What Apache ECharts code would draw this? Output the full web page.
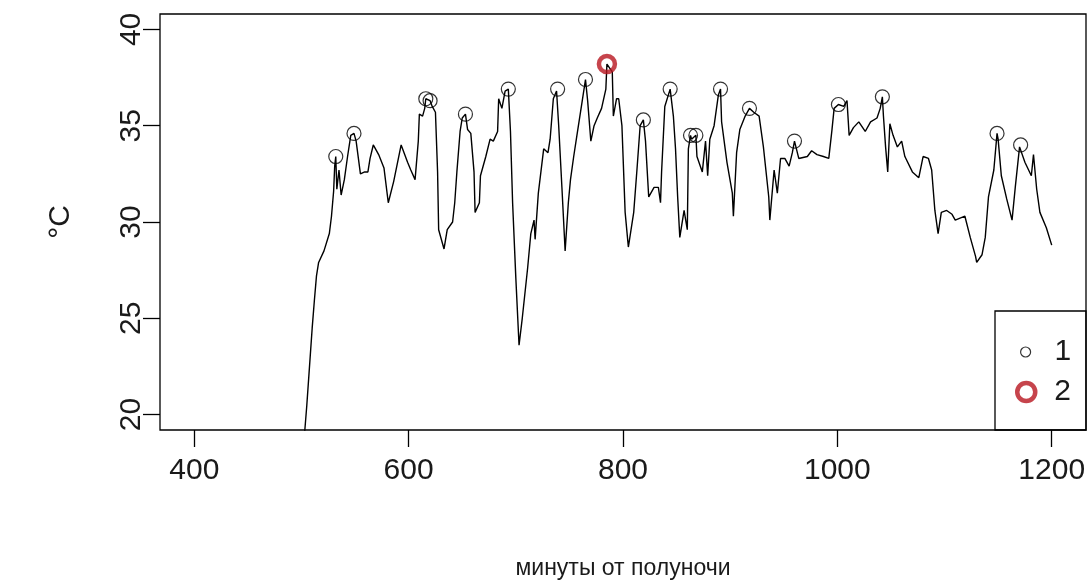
<!DOCTYPE html>
<html>
<head>
<meta charset="utf-8">
<script src="https://cdn.jsdelivr.net/npm/echarts@6/dist/echarts.min.js"></script>
<style>
  html, body { margin: 0; padding: 0; background: #fff; }
  #chart { width: 1089px; height: 582px; }
</style>
</head>
<body>
<div id="chart"></div>
<script>
// минуты от полуночи / температура
const minutes = [
  497, 503, 505, 507, 510, 512, 514, 516, 521, 526, 528, 530, 531, 532, 533, 535, 537, 540, 543, 546,
  549, 551, 555, 559, 562, 564, 567, 572, 577, 581, 586, 593, 599, 602, 606, 609, 610, 613, 615, 616,
  620, 622, 625, 627, 628, 633, 636, 641, 643, 645, 648, 650, 653, 655, 658, 661, 662, 666, 667, 672,
  676, 679, 683, 684, 687, 690, 693, 695, 697, 700, 703, 706, 711, 714, 717, 718, 721, 726, 730, 732,
  735, 738, 739, 740, 743, 746, 749, 751, 754, 757, 762, 765, 767, 770, 773, 776, 780, 784, 785, 790,
  791, 794, 796, 799, 802, 805, 810, 813, 816, 819, 821, 824, 829, 833, 835, 836, 839, 844, 847, 849,
  851, 853, 857, 860, 861, 863, 864, 868, 869, 874, 877, 879, 881, 885, 889, 891, 892, 897, 902, 903,
  906, 909, 914, 918, 922, 927, 931, 936, 937, 941, 944, 947, 951, 955, 958, 960, 964, 972, 976, 981,
  987, 992, 995, 997, 1001, 1006, 1009, 1011, 1015, 1020, 1026, 1031, 1037, 1040, 1042, 1043, 1045, 1047, 1049, 1052,
  1056, 1060, 1063, 1070, 1076, 1080, 1085, 1088, 1091, 1094, 1097, 1102, 1107, 1110, 1119, 1124, 1129, 1130, 1135, 1138,
  1141, 1146, 1149, 1150, 1153, 1158, 1163, 1166, 1170, 1171, 1175, 1181, 1183, 1186, 1189, 1195, 1200
];
const temps = [
  16.3, 19.1, 20.5, 22.1, 24.5, 25.9, 27.2, 27.9, 28.5, 29.4, 30.3, 31.6, 32.9, 33.4, 31.7, 32.7, 31.4, 32.2, 33.4, 34.5,
  34.6, 34.2, 32.5, 32.6, 32.6, 33.3, 34.0, 33.5, 32.8, 31.0, 32.1, 34.0, 33.1, 32.7, 32.2, 34.2, 35.6, 35.5, 35.9, 36.4,
  36.3, 36.0, 35.7, 32.6, 29.6, 28.6, 29.6, 30.0, 31.0, 32.6, 34.7, 35.4, 35.6, 34.8, 34.6, 32.6, 30.5, 31.0, 32.4, 33.4,
  34.3, 34.2, 34.7, 36.4, 35.9, 36.8, 36.9, 34.7, 31.0, 27.1, 23.6, 25.0, 27.6, 29.4, 30.1, 29.1, 31.5, 33.8, 33.6, 34.3,
  36.4, 36.8, 36.9, 35.0, 31.8, 28.5, 31.0, 32.2, 33.4, 34.5, 36.3, 37.4, 36.3, 34.2, 35.0, 35.4, 35.9, 36.9, 38.2, 37.8,
  35.5, 36.4, 36.4, 35.0, 30.5, 28.7, 30.5, 32.7, 35.0, 35.3, 34.2, 31.3, 31.8, 31.8, 31.0, 32.6, 36.0, 36.9, 35.5, 33.8,
  31.3, 29.2, 30.6, 29.6, 33.8, 34.5, 34.3, 34.5, 33.4, 32.6, 34.2, 32.4, 34.3, 35.0, 36.6, 36.9, 35.2, 33.1, 31.5, 30.3,
  33.6, 34.8, 35.5, 35.9, 35.7, 35.5, 33.9, 31.3, 30.1, 32.7, 31.5, 33.3, 33.3, 32.9, 33.6, 34.2, 33.3, 33.4, 33.7, 33.5,
  33.4, 33.3, 34.8, 35.9, 36.1, 36.0, 36.3, 34.5, 34.9, 35.2, 34.7, 35.2, 35.4, 35.9, 36.5, 35.5, 33.9, 32.6, 35.1, 34.5,
  33.9, 34.2, 33.4, 32.6, 32.3, 33.4, 33.3, 32.7, 30.6, 29.4, 30.5, 30.6, 30.4, 30.1, 30.3, 29.2, 28.2, 27.9, 28.3, 29.2,
  31.3, 32.7, 34.6, 34.3, 32.4, 31.2, 30.1, 31.8, 33.9, 34.0, 33.1, 32.4, 33.5, 31.7, 30.5, 29.7, 28.8
];

// локальные максимумы (1) и абсолютный максимум (2)
const peakMinutes = [532, 549, 616, 620, 653, 693, 739, 765, 819, 844, 863, 868, 891, 918, 960, 1001, 1042, 1149, 1171];
const peakTemps   = [33.4, 34.6, 36.4, 36.3, 35.6, 36.9, 36.9, 37.4, 35.3, 36.9, 34.5, 34.5, 36.9, 35.9, 34.2, 36.1, 36.5, 34.6, 34.0];
const maxMinutes = [785];
const maxTemps   = [38.2];

const xTicks = [400, 600, 800, 1000, 1200];
const yTicks = [20, 25, 30, 35, 40];

const FONT = '"Liberation Sans", Arial, sans-serif';
const RED = '#b8151f';

const zip = (a, b) => a.map((v, i) => [v, b[i]]);

const chart = echarts.init(document.getElementById('chart'), null, { renderer: 'canvas' });

chart.setOption({
  animation: false,
  backgroundColor: '#fff',
  grid: {
    left: 160, right: 3, top: 14, bottom: 152,
    outerBoundsMode: 'none',
    containLabel: false,
    show: true,
    borderColor: '#000',
    borderWidth: 1.3,
    backgroundColor: 'transparent'
  },
  xAxis: {
    type: 'value',
    min: 368,
    max: 1232,
    name: 'минуты от полуночи',
    nameLocation: 'middle',
    nameGap: 127,
    nameTextStyle: { fontFamily: FONT, fontSize: 23, color: '#1a1a1a' },
    axisLine: { show: false },
    splitLine: { show: false },
    axisTick: { show: true, length: 17, customValues: xTicks, lineStyle: { color: '#000', width: 1.3 } },
    axisLabel: {
      customValues: xTicks, margin: 26, fontFamily: FONT, fontSize: 30, color: '#1a1a1a',
      formatter: (v) => String(v)
    }
  },
  yAxis: {
    type: 'value',
    min: 19.2,
    max: 40.8,
    name: '°C',
    nameLocation: 'middle',
    nameRotate: 90,
    nameGap: 84,
    nameTextStyle: { fontFamily: FONT, fontSize: 30, color: '#1a1a1a' },
    axisLine: { show: false },
    splitLine: { show: false },
    axisTick: { show: true, length: 17, customValues: yTicks, lineStyle: { color: '#000', width: 1.3 } },
    axisLabel: {
      customValues: yTicks, rotate: 90, margin: 13, fontFamily: FONT, fontSize: 30, color: '#1a1a1a',
      formatter: (v) => String(v)
    }
  },
  legend: [
    {
      data: [{ name: '1', icon: 'circle', itemStyle: { color: '#fff', borderColor: '#000', borderWidth: 1.2 } }],
      selectedMode: false,
      left: 1020, top: 337, padding: 0,
      itemWidth: 10, itemHeight: 10,
      textStyle: { fontFamily: FONT, fontSize: 30, lineHeight: 30, color: '#1a1a1a', padding: [0, 0, 0, 19] }
    },
    {
      data: [{ name: '2', icon: 'circle', itemStyle: { color: '#fff', borderColor: RED, borderWidth: 4.5 } }],
      selectedMode: false,
      left: 1015, top: 377, padding: 0,
      itemWidth: 18, itemHeight: 18,
      textStyle: { fontFamily: FONT, fontSize: 30, lineHeight: 30, color: '#1a1a1a', padding: [0, 0, 0, 14] }
    }
  ],
  graphic: [
    {
      type: 'rect',
      z: 10,
      shape: { x: 995, y: 311, width: 91, height: 119 },
      style: { fill: 'none', stroke: '#000', lineWidth: 1.3 }
    }
  ],
  series: [
    {
      name: 't',
      type: 'line',
      data: zip(minutes, temps),
      showSymbol: false,
      clip: true,
      lineStyle: { color: '#000', width: 1.4 },
      z: 2
    },
    {
      name: '1',
      type: 'scatter',
      data: zip(peakMinutes, peakTemps),
      symbol: 'circle',
      symbolSize: 14,
      itemStyle: { color: 'transparent', borderColor: '#000', borderWidth: 1.2 },
      z: 3
    },
    {
      name: '2',
      type: 'scatter',
      data: zip(maxMinutes, maxTemps),
      symbol: 'circle',
      symbolSize: 16,
      itemStyle: { color: 'transparent', borderColor: RED, borderWidth: 4.5 },
      z: 4
    }
  ]
});
</script>
</body>
</html>
